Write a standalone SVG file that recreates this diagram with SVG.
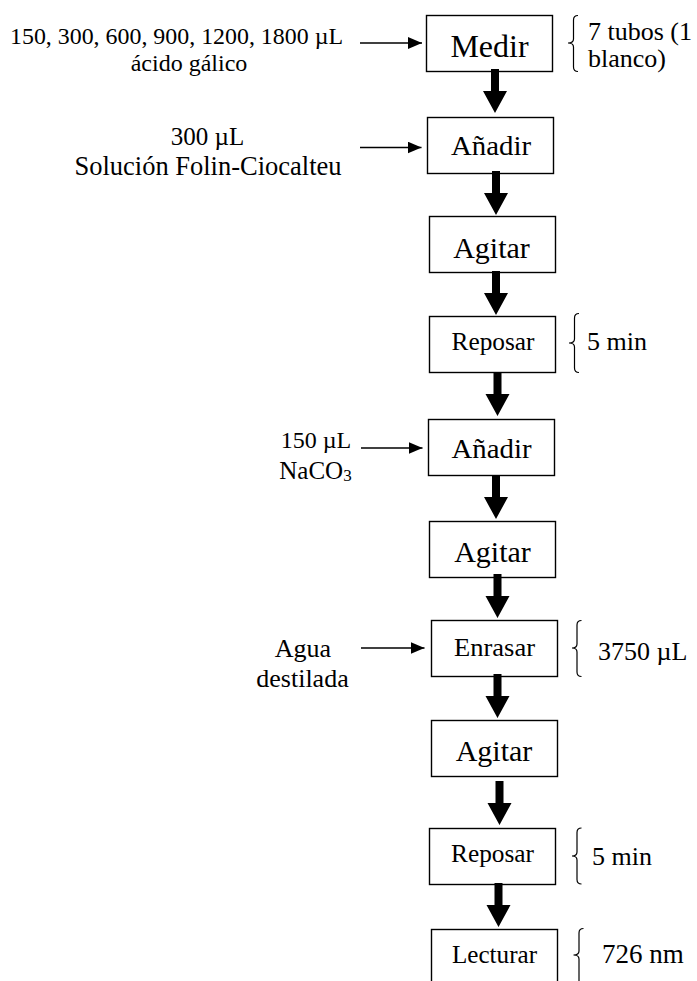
<svg xmlns="http://www.w3.org/2000/svg" width="697" height="981" viewBox="0 0 697 981">
  <style>
    .box { fill: #ffffff; stroke: #000000; stroke-width: 1.4; }
    .lbl { font-family: "Liberation Serif", "Times New Roman", serif; fill: #000000; }
    .mid { text-anchor: middle; }
    .thin { stroke: #000000; stroke-width: 1.3; fill: none; }
    .brace { stroke: #000000; stroke-width: 1.2; fill: none; }
    .flow { fill: #000000; stroke: none; }
  </style>
  <defs>
    <marker id="tip" markerWidth="14" markerHeight="12" refX="14" refY="6" orient="auto" markerUnits="userSpaceOnUse">
      <path d="M0,0 L14,6 L0,12 Z" fill="#000000"/>
    </marker>
    <!-- heavy downward arrow: shaft 8 wide, head 24 wide and 22 tall, tip at origin -->
    <path id="heavy" d="M-4,-44 L4,-44 L4,-22 L12,-22 L0,0 L-12,-22 L-4,-22 Z"/>
  </defs>
  <rect width="697" height="981" fill="#ffffff"/>

  <!-- process steps -->
  <g id="medir">
    <rect class="box" x="426.5" y="15.5" width="126" height="56"/>
    <text class="lbl mid" x="489.5" y="57" font-size="32">Medir</text>
  </g>
  <g id="anadir1">
    <rect class="box" x="427.5" y="117.5" width="126" height="56"/>
    <text class="lbl mid" x="491" y="155" font-size="28" textLength="80" lengthAdjust="spacingAndGlyphs">Añadir</text>
  </g>
  <g id="agitar1">
    <rect class="box" x="429.5" y="216.5" width="126" height="56"/>
    <text class="lbl mid" x="491.5" y="258" font-size="30">Agitar</text>
  </g>
  <g id="reposar1">
    <rect class="box" x="429.5" y="316.5" width="126" height="56"/>
    <text class="lbl mid" x="493" y="350" font-size="25" textLength="83" lengthAdjust="spacingAndGlyphs">Reposar</text>
  </g>
  <g id="anadir2">
    <rect class="box" x="428.5" y="419.5" width="126" height="56"/>
    <text class="lbl mid" x="491.5" y="458" font-size="28" textLength="80" lengthAdjust="spacingAndGlyphs">Añadir</text>
  </g>
  <g id="agitar2">
    <rect class="box" x="429.5" y="521.5" width="126" height="56"/>
    <text class="lbl mid" x="492.5" y="562" font-size="30">Agitar</text>
  </g>
  <g id="enrasar">
    <rect class="box" x="431.5" y="620.5" width="126" height="56"/>
    <text class="lbl mid" x="494.5" y="656" font-size="25" textLength="81" lengthAdjust="spacingAndGlyphs">Enrasar</text>
  </g>
  <g id="agitar3">
    <rect class="box" x="431.5" y="720.5" width="126" height="56"/>
    <text class="lbl mid" x="494" y="761" font-size="30">Agitar</text>
  </g>
  <g id="reposar2">
    <rect class="box" x="429.5" y="828.5" width="126" height="56"/>
    <text class="lbl mid" x="492.5" y="862" font-size="25" textLength="83" lengthAdjust="spacingAndGlyphs">Reposar</text>
  </g>
  <g id="lecturar">
    <rect class="box" x="431.5" y="929.5" width="126" height="56"/>
    <text class="lbl mid" x="494.5" y="963" font-size="25" textLength="85" lengthAdjust="spacingAndGlyphs">Lecturar</text>
  </g>

  <!-- inputs on the left -->
  <g id="in-acido">
    <text class="lbl mid" x="176.5" y="44" font-size="24" textLength="333" lengthAdjust="spacingAndGlyphs">150, 300, 600, 900, 1200, 1800 µL</text>
    <text class="lbl mid" x="189" y="71" font-size="24">ácido gálico</text>
  </g>
  <g id="in-folin">
    <text class="lbl mid" x="207.5" y="145" font-size="25">300 µL</text>
    <text class="lbl mid" x="208" y="175" font-size="26.5">Solución Folin-Ciocalteu</text>
  </g>
  <g id="in-naco3">
    <text class="lbl mid" x="316" y="448" font-size="24">150 µL</text>
    <text class="lbl mid" x="315.5" y="479" font-size="25">NaCO<tspan font-size="17" dy="2">3</tspan></text>
  </g>
  <g id="in-agua">
    <text class="lbl mid" x="303" y="657" font-size="26">Agua</text>
    <text class="lbl mid" x="302.5" y="687" font-size="26">destilada</text>
  </g>

  <!-- annotations on the right -->
  <g id="note-tubos">
    <path class="brace" d="M578,15.5 Q573.5,15.5 573.5,20 L573.5,39 Q573.5,43 568,43 Q573.5,43 573.5,47 L573.5,67 Q573.5,71.5 578,71.5"/>
    <text class="lbl" x="588" y="40" font-size="26">7 tubos (1</text>
    <text class="lbl" x="588" y="67" font-size="26">blanco)</text>
  </g>
  <g id="note-reposo1">
    <path class="brace" d="M579,313.5 Q574.5,313.5 574.5,318 L574.5,339 Q574.5,343 569,343 Q574.5,343 574.5,347 L574.5,368 Q574.5,372.5 579,372.5"/>
    <text class="lbl" x="587" y="350" font-size="26">5 min</text>
  </g>
  <g id="note-volumen">
    <path class="brace" d="M581.5,620.5 Q577,620.5 577,625 L577,644 Q577,648 572,648 Q577,648 577,652 L577,672 Q577,676.5 581.5,676.5"/>
    <text class="lbl" x="598" y="660" font-size="26">3750 µL</text>
  </g>
  <g id="note-reposo2">
    <path class="brace" d="M581.5,828 Q577,828 577,832.5 L577,852 Q577,856 572,856 Q577,856 577,860 L577,879.5 Q577,884 581.5,884"/>
    <text class="lbl" x="592" y="865" font-size="26">5 min</text>
  </g>
  <g id="note-longitud">
    <path class="brace" d="M583.5,928.5 Q579,928.5 579,933 L579,951 Q579,955 573.5,955 Q579,955 579,959 L579,981"/>
    <text class="lbl" x="602" y="963" font-size="27">726 nm</text>
  </g>

  <!-- connectors -->
  <g id="connectors">
    <line class="thin" x1="360" y1="43" x2="422" y2="43" marker-end="url(#tip)"/>
    <line class="thin" x1="360" y1="147.5" x2="421.5" y2="147.5" marker-end="url(#tip)"/>
    <line class="thin" x1="361" y1="448" x2="422.5" y2="448" marker-end="url(#tip)"/>
    <line class="thin" x1="361" y1="648" x2="424.5" y2="648" marker-end="url(#tip)"/>

    <use href="#heavy" class="flow" transform="translate(495,113)"/>
    <use href="#heavy" class="flow" transform="translate(496,215)"/>
    <use href="#heavy" class="flow" transform="translate(496,315)"/>
    <use href="#heavy" class="flow" transform="translate(497.5,416)"/>
    <use href="#heavy" class="flow" transform="translate(496,519)"/>
    <use href="#heavy" class="flow" transform="translate(497.5,618)"/>
    <use href="#heavy" class="flow" transform="translate(497.5,718)"/>
    <use href="#heavy" class="flow" transform="translate(499.5,825)"/>
    <use href="#heavy" class="flow" transform="translate(498.5,927)"/>
  </g>
</svg>
